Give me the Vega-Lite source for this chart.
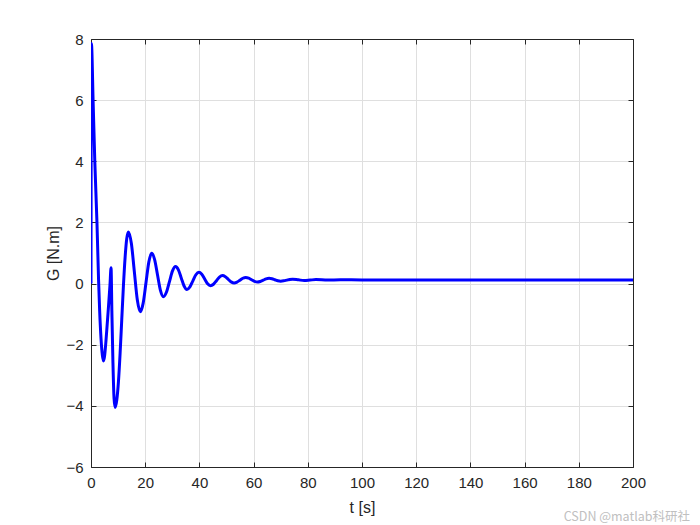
{
  "$schema": "https://vega.github.io/schema/vega-lite/v6.json",
  "width": 542,
  "height": 428,
  "autosize": "none",
  "padding": {"left": 91, "top": 39, "right": 67, "bottom": 58},
  "background": "white",
  "config": {
    "view": {"stroke": null},
    "font": "Liberation Sans",
    "axis": {
      "labelFont": "Liberation Sans",
      "titleFont": "Liberation Sans",
      "labelFontSize": 15,
      "titleFontSize": 16,
      "labelColor": "#262626",
      "titleColor": "#262626",
      "titleFontWeight": "normal",
      "domainColor": "#262626",
      "domainWidth": 1,
      "tickColor": "#262626",
      "tickSize": -5,
      "labelPadding": 13,
      "labelFlush": false,
      "gridColor": "#dfdfdf",
      "gridWidth": 1
    }
  },
  "title": {
    "text": "CSDN @matlab科研社",
    "orient": "bottom",
    "anchor": "end",
    "frame": "group",
    "font": "Noto Sans CJK SC",
    "fontSize": 12.5,
    "fontWeight": "normal",
    "color": "#c0c0c0",
    "dx": 57,
    "offset": -4
  },
  "data": {
    "values": [
      {"t": 0, "G": 0},
      {"t": 0.15, "G": 7.85},
      {"t": 0.8, "G": 5.9},
      {"t": 1.4, "G": 4.0},
      {"t": 2.2, "G": 2.0},
      {"t": 2.8, "G": 0.1},
      {"t": 3.2, "G": -0.9},
      {"t": 3.7, "G": -1.8},
      {"t": 4.2, "G": -2.35},
      {"t": 4.6, "G": -2.53},
      {"t": 5.0, "G": -2.38},
      {"t": 5.5, "G": -1.9},
      {"t": 6.0, "G": -1.3},
      {"t": 6.5, "G": -0.7},
      {"t": 7.0, "G": -0.05},
      {"t": 7.4, "G": 0.52},
      {"t": 7.7, "G": -0.9},
      {"t": 8.1, "G": -2.6},
      {"t": 8.5, "G": -3.75},
      {"t": 8.9, "G": -4.05},
      {"t": 9.5, "G": -3.82},
      {"t": 10.13, "G": -3.21},
      {"t": 10.74, "G": -2.28},
      {"t": 11.35, "G": -1.18},
      {"t": 11.96, "G": -0.08},
      {"t": 12.58, "G": 0.85},
      {"t": 13.19, "G": 1.47},
      {"t": 13.8, "G": 1.69},
      {"t": 14.9, "G": 1.308},
      {"t": 16.0, "G": 0.385},
      {"t": 17.1, "G": -0.538},
      {"t": 18.2, "G": -0.92},
      {"t": 19.25, "G": -0.64},
      {"t": 20.3, "G": 0.035},
      {"t": 21.35, "G": 0.71},
      {"t": 22.4, "G": 0.99},
      {"t": 23.475, "G": 0.782},
      {"t": 24.55, "G": 0.28},
      {"t": 25.625, "G": -0.222},
      {"t": 26.7, "G": -0.43},
      {"t": 27.825, "G": -0.285},
      {"t": 28.95, "G": 0.065},
      {"t": 30.075, "G": 0.415},
      {"t": 31.2, "G": 0.56},
      {"t": 32.25, "G": 0.45},
      {"t": 33.3, "G": 0.185},
      {"t": 34.35, "G": -0.08},
      {"t": 35.4, "G": -0.19},
      {"t": 36.5, "G": -0.108},
      {"t": 37.6, "G": 0.09},
      {"t": 38.7, "G": 0.288},
      {"t": 39.8, "G": 0.37},
      {"t": 40.875, "G": 0.306},
      {"t": 41.95, "G": 0.15},
      {"t": 43.025, "G": -0.006},
      {"t": 44.1, "G": -0.07},
      {"t": 45.2, "G": -0.022},
      {"t": 46.3, "G": 0.095},
      {"t": 47.4, "G": 0.212},
      {"t": 48.5, "G": 0.26},
      {"t": 49.575, "G": 0.225},
      {"t": 50.65, "G": 0.14},
      {"t": 51.725, "G": 0.055},
      {"t": 52.8, "G": 0.02},
      {"t": 53.875, "G": 0.046},
      {"t": 54.95, "G": 0.11},
      {"t": 56.025, "G": 0.174},
      {"t": 57.1, "G": 0.2},
      {"t": 58.175, "G": 0.178},
      {"t": 59.25, "G": 0.125},
      {"t": 60.325, "G": 0.072},
      {"t": 61.4, "G": 0.05},
      {"t": 62.475, "G": 0.068},
      {"t": 63.55, "G": 0.11},
      {"t": 64.625, "G": 0.152},
      {"t": 65.7, "G": 0.17},
      {"t": 66.775, "G": 0.157},
      {"t": 67.85, "G": 0.125},
      {"t": 68.925, "G": 0.093},
      {"t": 70.0, "G": 0.08},
      {"t": 71.1, "G": 0.09},
      {"t": 72.2, "G": 0.112},
      {"t": 73.3, "G": 0.135},
      {"t": 74.4, "G": 0.145},
      {"t": 76.55, "G": 0.122},
      {"t": 78.7, "G": 0.1},
      {"t": 80.85, "G": 0.115},
      {"t": 83.0, "G": 0.13},
      {"t": 87.3, "G": 0.118},
      {"t": 92.0, "G": 0.122},
      {"t": 100.0, "G": 0.12},
      {"t": 150.0, "G": 0.12},
      {"t": 200.0, "G": 0.12}
    ]
  },
  "layer": [
    {
      "mark": {"type": "line", "color": "#0000ff", "strokeWidth": 3, "interpolate": "monotone", "clip": true},
      "encoding": {
        "x": {
          "field": "t", "type": "quantitative",
          "scale": {"domain": [0, 200], "nice": false, "zero": false},
          "axis": {"values": [0, 20, 40, 60, 80, 100, 120, 140, 160, 180, 200], "title": "t [s]", "titlePadding": 9, "orient": "bottom"}
        },
        "y": {
          "field": "G", "type": "quantitative",
          "scale": {"domain": [-6, 8], "nice": false, "zero": false},
          "axis": {"values": [-6, -4, -2, 0, 2, 4, 6, 8], "title": "G [N.m]", "titlePadding": 4, "orient": "left"}
        }
      }
    },
    {
      "mark": {"type": "line", "opacity": 0},
      "encoding": {
        "x": {
          "field": "t", "type": "quantitative",
          "scale": {"domain": [0, 200], "nice": false, "zero": false},
          "axis": {"values": [0, 20, 40, 60, 80, 100, 120, 140, 160, 180, 200], "orient": "top", "labels": false, "grid": false, "title": null}
        },
        "y": {
          "field": "G", "type": "quantitative",
          "scale": {"domain": [-6, 8], "nice": false, "zero": false},
          "axis": {"values": [-6, -4, -2, 0, 2, 4, 6, 8], "orient": "right", "labels": false, "grid": false, "title": null}
        }
      }
    }
  ],
  "resolve": {"axis": {"x": "independent", "y": "independent"}}
}
